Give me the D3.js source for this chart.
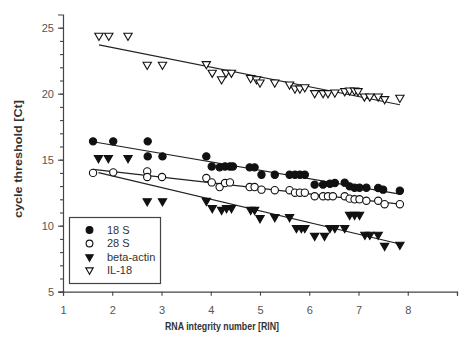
<!DOCTYPE html>
<html>
<head>
<meta charset="utf-8">
<script src="https://cdn.jsdelivr.net/npm/d3@7"></script>
<style>
  body { margin: 0; background: #fff; }
  svg text { font-family: "Liberation Sans", Arial, sans-serif; }
</style>
</head>
<body>
<div class="chart"></div>
<script>
// values (RIN vs Ct)
const rin18S = [1.61,2.02,2.72,2.72,3.02,3.91,4.02,4.18,4.29,4.39,4.45,4.79,4.89,5.03,5.30,5.60,5.71,5.81,5.91,6.11,6.28,6.42,6.52,6.72,6.82,6.92,7.02,7.16,7.40,7.50,7.84];
const ct18S  = [16.39,16.39,16.39,15.25,15.25,15.25,14.49,14.42,14.49,14.49,14.49,14.42,14.42,13.86,13.86,13.86,13.86,13.86,13.86,13.11,13.11,13.18,13.23,13.26,12.98,12.88,12.88,12.88,12.86,12.73,12.65];

const rin28S = [1.61,2.02,2.71,2.71,3.01,3.91,4.02,4.18,4.29,4.39,4.79,4.89,5.03,5.30,5.60,5.71,5.81,5.91,6.11,6.28,6.38,6.48,6.72,6.82,6.92,7.02,7.16,7.40,7.53,7.84];
const ct28S  = [14.0,14.04,14.11,13.69,13.69,13.61,13.28,12.93,13.23,13.28,12.93,12.93,12.73,12.69,12.69,12.5,12.5,12.5,12.23,12.23,12.23,12.23,12.23,12.05,12.0,12.0,11.89,11.89,11.63,11.63];

const rinActin = [1.72,1.92,2.32,2.71,3.02,3.91,4.03,4.22,4.32,4.42,4.81,4.89,5.0,5.30,5.60,5.74,5.84,5.91,6.11,6.31,6.42,6.52,6.72,6.82,6.92,7.02,7.13,7.23,7.40,7.53,7.84];
const ctActin  = [15.13,15.13,15.13,11.86,11.86,11.89,11.34,11.21,11.34,11.34,11.21,11.21,10.58,10.66,10.66,9.83,9.83,9.83,9.24,9.24,9.83,9.83,9.83,10.83,10.83,10.83,9.32,9.32,9.32,8.48,8.56];

const rinIL18 = [1.73,1.93,2.32,2.71,3.02,3.91,4.03,4.22,4.31,4.42,4.81,4.93,5.0,5.30,5.60,5.71,5.81,5.91,6.11,6.28,6.38,6.52,6.72,6.82,6.92,6.99,7.12,7.23,7.40,7.53,7.84];
const ctIL18  = [24.4,24.4,24.4,22.2,22.2,22.25,21.6,21.1,21.6,21.6,21.2,21.1,20.86,20.86,20.7,20.4,20.4,20.5,20.05,20.05,20.05,20.1,20.2,20.25,20.25,20.2,19.8,19.8,19.8,19.6,19.7];

const seriesNames = ["18 S", "28 S", "beta-actin", "IL-18"];
const xTicks = [1,2,3,4,5,6,7,8,9];
const xTickLabels = ["1","2","3","4","5","6","7","8",""];
const yMajor = [5,10,15,20,25];
const yMinor = d3.range(5, 26, 1);

const width = 466, height = 342;
const svg = d3.select(".chart").append("svg")
  .attr("width", width).attr("height", height);

const xScale = d3.scaleLinear().domain([1, 9]).range([63, 457]);
const yScale = d3.scaleLinear().domain([5, 26]).range([291.7, 14.5]);

const ink = "#111";
const axisCol = "#444";

// shape per series: filled circle, open circle, filled down triangle, open down triangle
const marker = {
  "18 S":       {type: d3.symbolCircle,   size: 42, fill: ink,   rot: 0},
  "28 S":       {type: d3.symbolCircle,   size: 42, fill: "#fff", rot: 0},
  "beta-actin": {type: d3.symbolTriangle, size: 30, fill: ink,   rot: 180},
  "IL-18":      {type: d3.symbolTriangle, size: 30, fill: "#fff", rot: 180}
};

const series = [
  {name: "18 S", xs: rin18S, ys: ct18S},
  {name: "28 S", xs: rin28S, ys: ct28S},
  {name: "beta-actin", xs: rinActin, ys: ctActin},
  {name: "IL-18", xs: rinIL18, ys: ctIL18}
];

// least squares line over each series' RIN range
function fit(xs, ys) {
  const mx = d3.mean(xs), my = d3.mean(ys);
  const b = d3.sum(xs, (x, i) => (x - mx) * (ys[i] - my)) / d3.sum(xs, x => (x - mx) * (x - mx));
  const a = my - b * mx;
  const x0 = d3.min(xs), x1 = d3.max(xs);
  return [[x0, a + b * x0], [x1, a + b * x1]];
}

// axes
const xAxis = d3.axisBottom(xScale).tickValues(xTicks)
  .tickFormat((d, i) => xTickLabels[i]).tickSize(4).tickPadding(11);
const gx = svg.append("g").attr("transform", `translate(0,${yScale(5)})`).call(xAxis);

const gyMinor = svg.append("g").attr("transform", `translate(${xScale(1)},0)`)
  .call(d3.axisLeft(yScale).tickValues(yMinor).tickFormat("").tickSize(3));
const gy = svg.append("g").attr("transform", `translate(${xScale(1)},0)`)
  .call(d3.axisLeft(yScale).tickValues(yMajor).tickSize(5).tickPadding(4));

[gx, gy, gyMinor].forEach(g => {
  g.select(".domain").attr("stroke", axisCol).attr("stroke-width", 1.2);
  g.selectAll(".tick line").attr("stroke", axisCol).attr("stroke-width", 1.1);
  g.selectAll(".tick text").attr("fill", "#555").attr("font-size", 11)
    .style("font-family", "'Liberation Sans', Arial, sans-serif");
});
gyMinor.select(".domain").remove();

// fit lines
const line = d3.line().x(d => xScale(d[0])).y(d => yScale(d[1]));
svg.append("g").selectAll("path")
  .data(series)
  .join("path")
  .attr("d", d => line(fit(d.xs, d.ys)))
  .attr("fill", "none")
  .attr("stroke", "#222")
  .attr("stroke-width", 1.2);

// points
series.forEach(s => {
  const m = marker[s.name];
  const sym = d3.symbol().type(m.type).size(m.size);
  svg.append("g").selectAll("path")
    .data(s.xs.map((x, i) => [x, s.ys[i]]))
    .join("path")
    .attr("d", sym)
    .attr("transform", d => `translate(${xScale(d[0])},${yScale(d[1])}) rotate(${m.rot})`)
    .attr("fill", m.fill)
    .attr("stroke", ink)
    .attr("stroke-width", 1.1);
});

// legend
const legend = svg.append("g");
legend.append("rect")
  .attr("x", 69.5).attr("y", 217.5).attr("width", 91).attr("height", 66)
  .attr("fill", "#fff").attr("stroke", axisCol).attr("stroke-width", 1.2);

const rowY = [230, 243.5, 257, 270];
legend.selectAll("path")
  .data(seriesNames)
  .join("path")
  .attr("d", d => d3.symbol().type(marker[d].type).size(marker[d].size - 6)())
  .attr("transform", (d, i) => `translate(89.5,${rowY[i]}) rotate(${marker[d].rot})`)
  .attr("fill", d => marker[d].fill)
  .attr("stroke", ink)
  .attr("stroke-width", 1.1);

legend.selectAll("text")
  .data(seriesNames)
  .join("text")
  .attr("x", 107)
  .attr("y", (d, i) => rowY[i])
  .attr("dy", "0.35em")
  .attr("font-size", 11)
  .attr("fill", "#333")
  .text(d => d);

// axis titles
svg.append("text")
  .attr("x", 222).attr("y", 330)
  .attr("text-anchor", "middle")
  .attr("font-size", 11).attr("font-weight", "bold").attr("fill", "#333")
  .attr("textLength", 114).attr("lengthAdjust", "spacingAndGlyphs")
  .text("RNA integrity number [RIN]");

svg.append("text")
  .attr("transform", "translate(22,159) rotate(-90)")
  .attr("text-anchor", "middle")
  .attr("font-size", 10.5).attr("font-weight", "bold").attr("fill", "#333")
  .attr("textLength", 118).attr("lengthAdjust", "spacingAndGlyphs")
  .text("cycle threshold [Ct]");
</script>
</body>
</html>
